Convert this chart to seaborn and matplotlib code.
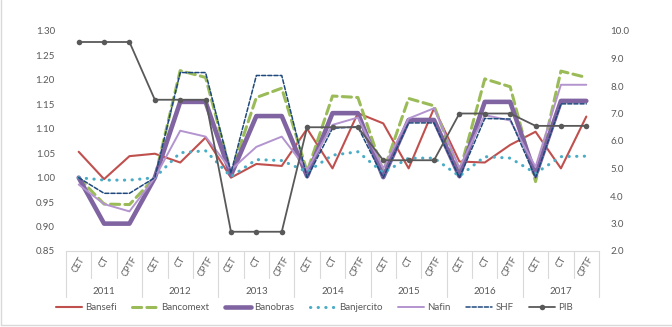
import pandas as pd
import numpy as np
import seaborn as sns
import matplotlib.pyplot as plt
from matplotlib.lines import Line2D

years = ['2011', '2012', '2013', '2014', '2015', '2016', '2017']
periods = ['CET', 'CT', 'CPTF']

bansefi = [1.053, 0.997, 1.044, 1.049, 1.031, 1.082, 1.000, 1.028, 1.024, 1.100, 1.019,
           1.132, 1.111, 1.019, 1.142, 1.033, 1.031, 1.067, 1.094, 1.019, 1.125]
bancomext = [1.000, 0.946, 0.945, 1.000, 1.219, 1.205, 1.010, 1.164, 1.183, 1.012, 1.167,
             1.164, 1.012, 1.162, 1.147, 1.010, 1.202, 1.186, 0.992, 1.218, 1.205]
banobras = [1.000, 0.906, 0.906, 1.000, 1.155, 1.155, 1.005, 1.126, 1.126, 1.003, 1.132,
            1.132, 1.001, 1.118, 1.118, 1.003, 1.155, 1.155, 1.005, 1.157, 1.157]
banjercito = [1.000, 0.995, 0.995, 1.000, 1.051, 1.055, 1.002, 1.037, 1.035, 1.012, 1.046,
              1.053, 1.010, 1.040, 1.040, 1.003, 1.043, 1.040, 1.009, 1.043, 1.044]
nafin = [0.986, 0.946, 0.931, 1.000, 1.096, 1.084, 1.016, 1.063, 1.084, 1.016, 1.108,
         1.123, 1.019, 1.121, 1.142, 1.020, 1.128, 1.117, 1.022, 1.190, 1.190]
shf = [1.000, 0.968, 0.968, 1.000, 1.215, 1.215, 1.010, 1.209, 1.209, 1.000, 1.101,
       1.104, 1.000, 1.112, 1.112, 1.000, 1.121, 1.120, 1.000, 1.151, 1.151]
pib = [9.6, 9.6, 9.6, 7.5, 7.5, 7.5, 2.7, 2.7, 2.7, 6.5, 6.5, 6.5, 5.3, 5.3, 5.3,
       7.0, 7.0, 7.0, 6.55, 6.55, 6.55]

labels = [p for y in years for p in periods]
df = pd.DataFrame({'pos': np.arange(len(labels)), 'Bansefi': bansefi, 'Bancomext': bancomext,
                   'Banobras': banobras, 'Banjercito': banjercito, 'Nafin': nafin,
                   'SHF': shf, 'PIB': pib})

sns.set_style('white')
plt.rcParams['font.family'] = ['Lato', 'DejaVu Sans']
grey = '#595959'

fig = plt.figure(figsize=(6.72, 3.27), dpi=100)
ax = fig.add_axes([66/672, 76/327, 533/672, 220/327])

styles = {
    'Bansefi': dict(color='#C0504D', lw=1.5, ls='-'),
    'Bancomext': dict(color='#9BBB59', lw=2.2, ls=(0, (3, 1.7))),
    'Banobras': dict(color='#8064A2', lw=3.3, ls='-'),
    'Banjercito': dict(color='#4BACC6', lw=2.2, ls=(0, (0.1, 2.4))),
    'Nafin': dict(color='#B394CF', lw=1.4, ls='-'),
    'SHF': dict(color='#1F497D', lw=1.1, ls=(0, (2.7, 1.3))),
}
for name, st in styles.items():
    sns.lineplot(data=df, x='pos', y=name, ax=ax, color=st['color'], linewidth=st['lw'],
                 linestyle=st['ls'], dash_capstyle='round', sort=False, errorbar=None, label=name)

ax2 = ax.twinx()
sns.lineplot(data=df, x='pos', y='PIB', ax=ax2, color=grey, linewidth=1.3, marker='o',
             markersize=4, markeredgewidth=0, sort=False, errorbar=None, label='PIB')

ax.set_xlim(-0.5, len(labels) - 0.5)
ax.set_ylim(0.85, 1.30)
ax.set_yticks(np.arange(0.85, 1.301, 0.05))
ax.set_yticklabels([f'{v:.2f}' for v in np.arange(0.85, 1.301, 0.05)])
ax2.set_ylim(2, 10)
ax2.set_yticks(np.arange(2, 10.01, 1))
ax2.set_yticklabels([f'{v:.1f}' for v in np.arange(2, 10.01, 1)])

ax.set_xticks(df['pos'])
ax.set_xticklabels(labels, rotation=60, ha='center', va='top')
for a in (ax, ax2):
    a.set_xlabel('')
    a.set_ylabel('')
    a.tick_params(length=0, labelsize=7, colors=grey, pad=8)
    for s in a.spines.values():
        s.set_visible(False)
ax.tick_params(axis='x', pad=3, labelsize=6.5)
ax.spines['bottom'].set_visible(True)
ax.spines['bottom'].set_color('#D9D9D9')

# category / year separators
trans = ax.get_xaxis_transform()
for i in range(len(labels) + 1):
    depth = -0.21 if i % len(periods) == 0 else -0.123
    ax.plot([i - 0.5, i - 0.5], [0, depth], transform=trans, color='#D9D9D9', lw=0.8, clip_on=False)
for j, y in enumerate(years):
    ax.text(j * len(periods) + (len(periods) - 1) / 2, -0.185, y, transform=trans,
            ha='center', va='center', fontsize=7, color=grey)

handles, names = ax.get_legend_handles_labels()
h2, n2 = ax2.get_legend_handles_labels()
ax.get_legend().remove()
ax2.get_legend().remove()
fig.legend(handles + h2, names + n2, loc='center', bbox_to_anchor=(0.468, 19/327), ncol=7,
           frameon=False, fontsize=7, handlelength=2.7, handletextpad=0.3, columnspacing=1.6,
           labelcolor=grey)

# chart border
fig.add_artist(Line2D([0.002, 0.002], [0.006, 1], color='#D9D9D9', lw=1))
fig.add_artist(Line2D([0.002, 1], [0.006, 0.006], color='#D9D9D9', lw=1))

fig.savefig('out.png', dpi=100)
